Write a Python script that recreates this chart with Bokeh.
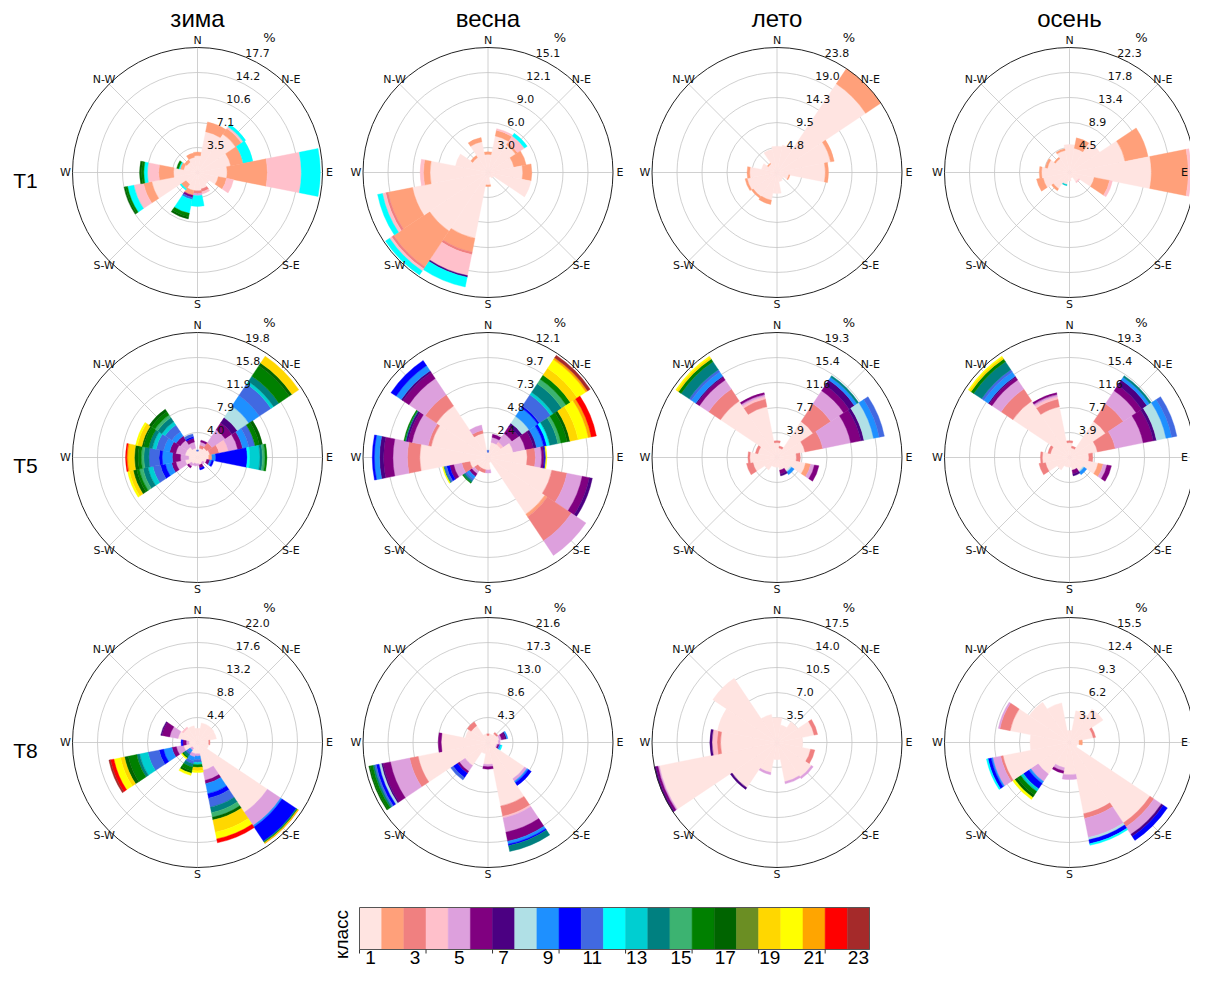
import math
from bokeh.plotting import figure
from bokeh.models import Range1d
from bokeh.embed import file_html
from bokeh.resources import INLINE
from bokeh.core.properties import value

# ---------------- data ----------------
seasons = ["зима", "весна", "лето", "осень"]
stations = ["T1", "T5", "T8"]
directions = ["N", "NNE", "NE", "ENE", "E", "ESE", "SE", "SSE",
              "S", "SSW", "SW", "WSW", "W", "WNW", "NW", "NNW"]
compass_labels = ["N", "N-E", "E", "S-E", "S", "S-W", "W", "N-W"]
class_colors = ["#FFE4E1", "#FFA07A", "#F08080", "#FFC0CB", "#DDA0DD", "#800080",
                "#4B0082", "#B0E0E6", "#1E90FF", "#0000FF", "#4169E1", "#00FFFF",
                "#00CED1", "#008080", "#3CB371", "#008000", "#006400", "#6B8E23",
                "#FFD700", "#FFFF00", "#FFA500", "#FF0000", "#A52A2A"]
class_ticks = [1, 3, 5, 7, 9, 11, 13, 15, 17, 19, 21, 23]
colorbar_title = "класс"

# per-direction stacks: [class, percent] from the centre outwards (N, NNE, ... NNW)
t1_zima = [
    [[1, 2.4], [2, 0.5]],
    [[1, 5.9], [2, 1.4]],
    [[1, 6.5], [2, 1.0], [4, 0.3], [12, 0.4]],
    [[1, 4.8], [2, 1.8], [12, 1.4]],
    [[1, 4.2], [2, 5.7], [4, 4.8], [12, 2.7]],
    [[1, 3.0], [2, 1.2], [4, 1.0]],
    [[1, 2.0]],
    [[1, 2.4], [3, 0.4], [4, 0.3]],
    [[1, 2.6], [3, 0.4], [5, 0.3], [12, 1.5]],
    [[1, 2.6], [2, 0.7], [6, 0.3], [11, 0.3], [12, 2.0], [16, 0.5], [17, 0.3]],
    [[1, 2.0], [2, 0.8], [12, 0.2]],
    [[1, 6.6], [2, 1.2], [4, 1.4], [12, 0.9], [16, 0.3], [17, 0.2]],
    [[1, 3.4], [2, 2.1], [4, 1.6], [12, 0.5], [16, 0.3], [17, 0.3]],
    [[1, 2.0], [2, 0.5], [12, 0.2], [16, 0.3]],
    [[1, 1.8], [2, 0.4]],
    [[1, 2.2], [2, 0.6]],
]
t1_vesna = [
    [[1, 2.2], [2, 0.3]],
    [[1, 4.5], [2, 0.7], [4, 0.2]],
    [[1, 4.0], [2, 0.3], [4, 1.0], [12, 0.4]],
    [[1, 3.2], [2, 1.5]],
    [[1, 4.2], [2, 1.1]],
    [[1, 5.3]],
    [[1, 0.8]],
    [[1, 0.6]],
    [[1, 1.5], [2, 0.2]],
    [[1, 8.1], [2, 1.7], [3, 0.3], [4, 2.6], [7, 0.2], [12, 1.2]],
    [[1, 8.5], [2, 5.2], [3, 0.3], [4, 0.3], [12, 0.6]],
    [[1, 9.3], [2, 3.0], [3, 0.3], [4, 0.4], [12, 0.6]],
    [[1, 7.0], [2, 0.8], [4, 0.4]],
    [[1, 4.0]],
    [[1, 2.2], [2, 0.3]],
    [[1, 3.8], [2, 0.5]],
]
t1_leto = [
    [[1, 5.0]],
    [[1, 5.3]],
    [[1, 20.3], [2, 3.5]],
    [[1, 10.4], [2, 0.7]],
    [[1, 9.2], [2, 0.6]],
    [[1, 2.3], [2, 0.2]],
    [[1, 1.5]],
    [[1, 1.8]],
    [[1, 4.0]],
    [[1, 5.4], [2, 0.8]],
    [[1, 5.5], [2, 0.4]],
    [[1, 5.8], [2, 0.4]],
    [[1, 5.2], [2, 0.5]],
    [[1, 3.0]],
    [[1, 2.0], [2, 0.2]],
    [[1, 4.5]],
]
t1_osen = [
    [[1, 5.0]],
    [[1, 4.4], [2, 1.9]],
    [[1, 6.5]],
    [[1, 10.1], [2, 4.2]],
    [[1, 14.6], [2, 6.6], [4, 0.5]],
    [[1, 4.5], [2, 2.8], [4, 0.5]],
    [[1, 2.0], [4, 0.2]],
    [[1, 1.0]],
    [[1, 1.5]],
    [[1, 2.2], [13, 0.2]],
    [[1, 3.5], [2, 0.4]],
    [[1, 4.8], [2, 1.2]],
    [[1, 5.0], [2, 0.4]],
    [[1, 4.0], [2, 0.4]],
    [[1, 3.0], [2, 0.3]],
    [[1, 4.0], [2, 0.3]],
]
t5_zima = [
    [[1, 1.0], [11, 0.2]],
    [[1, 1.5], [3, 0.5], [5, 0.5], [6, 0.3]],
    [[1, 1.8], [3, 1.0], [5, 2.5], [6, 1.3], [7, 1.0], [8, 2.2], [9, 2.0], [11, 2.2],
     [13, 0.5], [14, 1.0], [16, 2.0], [17, 0.5], [19, 1.3]],
    [[1, 2.0], [3, 1.5], [4, 1.5], [5, 1.5], [6, 0.8], [9, 1.0], [11, 1.0], [16, 0.7], [17, 0.5]],
    [[1, 1.8], [2, 0.5], [9, 0.6], [10, 5.0], [12, 0.4], [13, 1.6], [14, 0.4], [15, 0.4], [16, 0.3]],
    [[1, 1.5], [6, 0.5], [9, 0.3], [10, 0.3]],
    [[1, 1.0], [5, 0.3]],
    [[1, 1.2], [6, 0.5], [10, 0.3]],
    [[1, 1.0], [5, 0.3]],
    [[1, 1.0], [5, 0.4]],
    [[1, 1.2], [5, 0.5], [6, 0.3]],
    [[1, 2.0], [5, 1.5], [6, 0.7], [9, 1.0], [10, 0.8], [11, 1.2], [13, 0.8], [14, 0.8],
     [15, 0.6], [16, 0.4], [17, 0.6], [19, 0.6], [20, 0.3]],
    [[1, 1.4], [5, 1.3], [6, 1.3], [9, 1.6], [10, 0.5], [11, 1.6], [14, 0.8], [15, 0.4],
     [16, 0.5], [17, 0.6], [19, 1.0], [21, 0.2], [22, 0.2]],
    [[1, 2.0], [5, 1.5], [6, 1.0], [9, 1.0], [11, 1.2], [13, 0.6], [14, 0.6], [16, 0.8],
     [17, 0.3], [19, 0.7], [20, 0.3]],
    [[1, 2.0], [5, 1.3], [6, 0.8], [9, 0.8], [11, 1.3], [13, 0.6], [14, 0.8], [15, 0.5],
     [16, 0.6], [17, 0.5]],
    [[1, 1.5], [5, 1.0], [6, 0.6], [10, 0.3], [11, 0.4]],
]
t5_vesna = [
    [[1, 0.5], [11, 0.2]],
    [[1, 1.5], [5, 0.5], [6, 0.3]],
    [[1, 1.5], [4, 0.3], [5, 1.0], [6, 0.8], [7, 0.4], [8, 0.8], [9, 1.0], [10, 0.2], [11, 1.3],
     [13, 0.3], [14, 1.0], [15, 0.5], [16, 0.5], [19, 0.8], [20, 1.0], [21, 0.2], [23, 0.3]],
    [[1, 2.5], [5, 1.2], [6, 0.8], [7, 0.3], [9, 0.7], [10, 0.3], [12, 0.3], [14, 0.8],
     [15, 0.3], [16, 0.6], [17, 0.3], [19, 0.8], [20, 1.0], [21, 0.3], [22, 0.5]],
    [[1, 3.8], [3, 0.8], [5, 0.6], [6, 0.2], [7, 0.1], [10, 0.1], [20, 0.1]],
    [[1, 6.3], [3, 1.5], [5, 1.5], [6, 0.7], [7, 0.3]],
    [[1, 6.6], [2, 0.3], [3, 2.8], [5, 1.7]],
    [[1, 0.5]],
    [[1, 1.2], [5, 0.3]],
    [[1, 1.2], [3, 0.3]],
    [[1, 1.2], [3, 0.4], [5, 0.3], [6, 0.3], [9, 0.3], [11, 0.2], [14, 0.2], [16, 0.1]],
    [[1, 1.8], [3, 0.8], [5, 0.8], [6, 0.4], [10, 0.3], [11, 0.2], [14, 0.1], [20, 0.1]],
    [[1, 6.6], [3, 1.2], [5, 1.4], [6, 0.9], [7, 0.4], [9, 0.5], [10, 0.2]],
    [[1, 5.6], [3, 0.3], [5, 1.6], [6, 0.4], [7, 0.2], [14, 0.1], [16, 0.1]],
    [[1, 6.0], [3, 1.3], [5, 1.9], [6, 0.7], [7, 0.2], [9, 0.6], [10, 0.6]],
    [[1, 2.4], [3, 0.3], [5, 0.5]],
]
t5_leto = [
    [[1, 2.3], [3, 0.3]],
    [[1, 1.5], [3, 0.3]],
    [[1, 6.7], [3, 3.3], [5, 2.4], [6, 1.0], [7, 1.0], [9, 0.5], [14, 0.3]],
    [[1, 4.4], [3, 2.8], [5, 4.4], [6, 1.6], [7, 0.5], [8, 1.5], [9, 0.9], [11, 0.8]],
    [[1, 3.0], [3, 0.6]],
    [[1, 4.5], [2, 0.8], [5, 0.6], [6, 0.7]],
    [[1, 2.5], [8, 0.2], [9, 0.5]],
    [[1, 2.0], [6, 0.6], [7, 0.3]],
    [[1, 1.5]],
    [[1, 1.5]],
    [[1, 2.3]],
    [[1, 3.8], [3, 1.0]],
    [[1, 4.2], [3, 0.3]],
    [[1, 3.0], [3, 0.4]],
    [[1, 10.5], [3, 2.2], [5, 1.7], [6, 0.5], [7, 0.2], [9, 0.8], [11, 0.4], [14, 1.5],
     [16, 0.5], [19, 0.3], [20, 0.2]],
    [[1, 8.0], [3, 1.2], [4, 0.4], [5, 0.3], [6, 0.3]],
]
t5_osen = [
    [[1, 2.3], [3, 0.3]],
    [[1, 1.5], [3, 0.3]],
    [[1, 6.7], [3, 3.3], [5, 2.4], [6, 1.0], [7, 1.0], [9, 0.5], [14, 0.3]],
    [[1, 4.4], [3, 2.8], [5, 4.4], [6, 1.6], [7, 0.5], [8, 1.5], [9, 0.9], [11, 0.8]],
    [[1, 3.0], [3, 0.6]],
    [[1, 4.5], [2, 0.8], [5, 0.6], [6, 0.7]],
    [[1, 2.5], [8, 0.2], [9, 0.5]],
    [[1, 2.0], [6, 0.6], [7, 0.3]],
    [[1, 1.5]],
    [[1, 1.5]],
    [[1, 2.3]],
    [[1, 3.8], [3, 1.0]],
    [[1, 4.2], [3, 0.3]],
    [[1, 3.0], [3, 0.4]],
    [[1, 10.5], [3, 2.2], [5, 1.7], [6, 0.5], [7, 0.2], [9, 0.8], [11, 0.4], [14, 1.5],
     [16, 0.5], [19, 0.3], [20, 0.2]],
    [[1, 8.0], [3, 1.2], [4, 0.4], [5, 0.3], [6, 0.3]],
]
t8_zima = [
    [[1, 2.5]],
    [[1, 3.5]],
    [[1, 3.5]],
    [[1, 3.4]],
    [[1, 2.0], [3, 0.2]],
    [[1, 2.0]],
    [[1, 14.8], [5, 2.8], [9, 0.3], [10, 3.0], [14, 0.2], [16, 0.1], [19, 0.1], [21, 0.1]],
    [[1, 5.0], [5, 1.8], [6, 0.6], [9, 1.8], [10, 0.8], [11, 1.6], [14, 1.0], [15, 0.8],
     [17, 0.5], [19, 2.2], [20, 1.2], [22, 0.7]],
    [[1, 2.0], [5, 0.4], [9, 0.6], [11, 0.5], [13, 0.4], [16, 0.5], [19, 0.6], [20, 0.3]],
    [[1, 2.0], [5, 0.6], [9, 0.7], [11, 0.5], [14, 0.6], [16, 0.7], [17, 0.4], [20, 0.4]],
    [[1, 1.2], [5, 0.4], [9, 0.5], [11, 0.4], [14, 0.5], [16, 0.3], [20, 0.2]],
    [[1, 2.5], [5, 1.3], [6, 0.8], [9, 1.5], [10, 0.8], [11, 2.0], [13, 1.5], [14, 0.5],
     [16, 1.5], [17, 0.7], [19, 0.7], [20, 1.2], [22, 0.6], [23, 0.3]],
    [[1, 1.5], [5, 0.5], [6, 0.6], [10, 0.3]],
    [[1, 3.5], [5, 1.5], [6, 1.4], [7, 0.2]],
    [[1, 3.0], [4, 0.3]],
    [[1, 3.0]],
]
t8_vesna = [
    [[1, 1.2], [3, 0.3]],
    [[1, 1.5]],
    [[1, 1.8], [3, 0.3]],
    [[1, 2.0], [5, 0.4], [6, 0.6], [7, 0.3], [9, 0.2]],
    [[1, 1.8], [5, 0.3]],
    [[1, 1.5], [5, 0.2], [6, 0.3], [9, 0.3], [12, 0.2]],
    [[1, 7.6], [5, 0.5], [9, 0.3], [10, 0.6]],
    [[1, 11.2], [3, 1.8], [4, 0.3], [5, 2.5], [6, 1.6], [9, 0.5], [10, 0.3], [14, 1.0]],
    [[1, 3.8], [5, 0.4], [6, 0.4]],
    [[1, 2.0]],
    [[1, 4.8], [5, 1.2], [6, 0.4], [10, 0.9], [11, 0.5]],
    [[1, 12.3], [3, 1.5], [5, 3.4], [6, 1.3], [7, 0.3], [8, 0.4], [10, 0.5], [11, 0.3],
     [14, 0.3], [16, 0.5], [17, 0.2]],
    [[1, 8.1], [6, 0.5]],
    [[1, 4.0]],
    [[1, 3.5], [3, 0.8]],
    [[1, 1.5]],
]
t8_leto = [
    [[1, 3.5]],
    [[1, 2.5]],
    [[1, 3.5]],
    [[1, 5.3], [3, 0.5]],
    [[1, 3.6]],
    [[1, 4.8], [3, 0.6]],
    [[1, 5.8], [5, 0.3]],
    [[1, 5.6], [5, 0.3]],
    [[1, 2.4]],
    [[1, 4.3], [5, 0.3]],
    [[1, 7.6], [7, 0.3]],
    [[1, 16.8], [5, 0.2], [6, 0.3], [7, 0.2]],
    [[1, 7.9], [3, 0.5], [4, 0.7], [7, 0.3]],
    [[1, 8.5]],
    [[1, 10.8]],
    [[1, 4.0]],
]
t8_osen = [
    [[1, 1.5]],
    [[1, 4.0]],
    [[1, 5.0]],
    [[1, 3.0], [3, 0.3]],
    [[1, 1.2], [2, 0.4]],
    [[1, 1.0]],
    [[1, 12.0], [3, 0.6], [5, 1.1], [7, 0.3], [10, 0.6]],
    [[1, 9.0], [3, 0.6], [5, 2.4], [8, 0.3], [10, 0.5], [12, 0.2]],
    [[1, 4.0], [5, 0.6]],
    [[1, 3.2], [5, 0.4], [6, 0.3]],
    [[1, 4.7], [5, 1.1], [9, 0.3], [10, 0.8], [13, 0.4], [16, 0.5], [17, 0.4], [20, 0.3]],
    [[1, 8.4], [3, 0.3], [5, 1.0], [9, 0.2], [10, 0.4], [12, 0.2]],
    [[1, 4.9]],
    [[1, 7.5], [3, 1.3], [5, 0.2]],
    [[1, 6.0]],
    [[1, 5.0]],
]

# radial axis maxima (%) and ring labels per panel
rmax_t1 = [17.7, 15.1, 23.8, 22.3]
rmax_t5 = [19.8, 12.1, 19.3, 19.3]
rmax_t8 = [22.0, 21.6, 17.5, 15.5]
rings_t1 = [["3.5", "7.1", "10.6", "14.2", "17.7"], ["3.0", "6.0", "9.0", "12.1", "15.1"],
            ["4.8", "9.5", "14.3", "19.0", "23.8"], ["4.5", "8.9", "13.4", "17.8", "22.3"]]
rings_t5 = [["4.0", "7.9", "11.9", "15.8", "19.8"], ["2.4", "4.8", "7.3", "9.7", "12.1"],
            ["3.9", "7.7", "11.6", "15.4", "19.3"], ["3.9", "7.7", "11.6", "15.4", "19.3"]]
rings_t8 = [["4.4", "8.8", "13.2", "17.6", "22.0"], ["4.3", "8.6", "13.0", "17.3", "21.6"],
            ["3.5", "7.0", "10.5", "14.0", "17.5"], ["3.1", "6.2", "9.3", "12.4", "15.5"]]

# ---------------- layout (page pixels) ----------------
PX0, PX1, PY0, PY1 = 8, 1198, 8, 974
col_x = [205, 495.5, 784.5, 1077]
row_y = [180, 465, 750]
R = 125.0
SECTOR = 22.5

panels = [
    [(t1_zima, rmax_t1[0], rings_t1[0]), (t1_vesna, rmax_t1[1], rings_t1[1]),
     (t1_leto, rmax_t1[2], rings_t1[2]), (t1_osen, rmax_t1[3], rings_t1[3])],
    [(t5_zima, rmax_t5[0], rings_t5[0]), (t5_vesna, rmax_t5[1], rings_t5[1]),
     (t5_leto, rmax_t5[2], rings_t5[2]), (t5_osen, rmax_t5[3], rings_t5[3])],
    [(t8_zima, rmax_t8[0], rings_t8[0]), (t8_vesna, rmax_t8[1], rings_t8[1]),
     (t8_leto, rmax_t8[2], rings_t8[2]), (t8_osen, rmax_t8[3], rings_t8[3])],
]

p = figure(width=PX1 - PX0, height=PY1 - PY0, output_backend="svg", toolbar_location=None,
           x_range=Range1d(PX0, PX1), y_range=Range1d(PY1, PY0),
           x_axis_type=None, y_axis_type=None, min_border=0)
p.outline_line_color = None
p.background_fill_color = "white"

# colorbar range (class units)
cb_left, cb_right, cb_top, cb_bottom = 367, 877, 915, 957
cb_s = (cb_right - cb_left) / len(class_colors)
xr = {"cb": Range1d(0.5 - (cb_left - PX0) / cb_s, 0.5 + (PX1 - cb_left) / cb_s)}
yr = {}
for ri in range(3):
    for ci in range(4):
        rmax = panels[ri][ci][1]
        s = R / rmax
        cx, cy = col_x[ci], row_y[ri]
        xr[f"x{ri}{ci}"] = Range1d((PX0 - cx) / s, (PX1 - cx) / s)
        yr[f"y{ri}{ci}"] = Range1d((cy - PY1) / s, (cy - PY0) / s)
p.extra_x_ranges = xr
p.extra_y_ranges = yr

grid_col = "#c4c4c4"
for ri in range(3):
    for ci in range(4):
        data, rmax, rlabels = panels[ri][ci]
        kw = dict(x_range_name=f"x{ri}{ci}", y_range_name=f"y{ri}{ci}")
        s = R / rmax
        cx = col_x[ci]
        # grid
        p.circle(x=[0] * 4, y=[0] * 4, radius=[rmax * k / 5 for k in range(1, 5)],
                 fill_color=None, line_color=grid_col, line_width=0.8, **kw)
        angs = [math.radians(b) for b in range(0, 360, 45)]
        p.segment(x0=[0] * 8, y0=[0] * 8, x1=[rmax * math.sin(a) for a in angs],
                  y1=[rmax * math.cos(a) for a in angs], line_color=grid_col, line_width=0.8, **kw)
        # stacked bars
        inner, outer, st, en, col = [], [], [], [], []
        for di, segs in enumerate(data):
            b = di * SECTOR
            cum = 0.0
            for cls, v in segs:
                inner.append(cum)
                outer.append(cum + v)
                cum += v
                st.append(math.radians(90 - b - SECTOR / 2))
                en.append(math.radians(90 - b + SECTOR / 2))
                col.append(class_colors[cls - 1])
        p.annular_wedge(x=0, y=0, inner_radius=inner, outer_radius=outer,
                        start_angle=st, end_angle=en, fill_color=col, line_color=col,
                        line_width=0.4, **kw)
        # outer spine
        p.circle(x=[0], y=[0], radius=[rmax], fill_color=None, line_color="#222222",
                 line_width=1.0, **kw)
        # compass labels (kept inside the page at the right edge)
        lr = 132 / s
        cang = [math.radians(b) for b in range(0, 360, 45)]
        lx = [lr * math.sin(a) for a in cang]
        ly = [lr * math.cos(a) for a in cang]
        lx[2] = min(lx[2], (PX1 - 6 - cx) / s)
        p.text(x=lx, y=ly,
               text=compass_labels, text_font=value("DejaVu Sans"), text_font_size="11px",
               text_align="center", text_baseline="middle", text_color="#111111", **kw)
        # ring labels
        ra = math.radians(22.5)
        rr = [rmax * k / 5 for k in range(1, 6)]
        p.text(x=[r * math.sin(ra) for r in rr], y=[r * math.cos(ra) for r in rr],
               text=rlabels, text_font=value("DejaVu Sans"), text_font_size="11px",
               text_align="left", text_baseline="bottom", text_color="#111111", **kw)
        p.text(x=[72 / s], y=[135 / s], text=["%"], text_font=value("DejaVu Sans"),
               text_font_size="13px", text_align="center", text_baseline="middle",
               text_color="#111111", **kw)

# column titles and row labels
p.text(x=col_x, y=[26] * 4, text=seasons, text_font=value("Liberation Sans"),
       text_font_size="24px", text_align="center", text_baseline="alphabetic", text_color="black")
p.text(x=[33] * 3, y=[ry + 8 for ry in row_y], text=stations, text_font=value("Liberation Sans"),
       text_font_size="21px", text_align="center", text_baseline="alphabetic", text_color="black")

# colorbar
classes = list(range(1, len(class_colors) + 1))
p.quad(left=[c - 0.5 for c in classes], right=[c + 0.5 for c in classes],
       top=[cb_top] * len(classes), bottom=[cb_bottom] * len(classes),
       fill_color=class_colors, line_color=class_colors, line_width=0.5, x_range_name="cb")
p.quad(left=[0.5], right=[len(classes) + 0.5], top=[cb_top], bottom=[cb_bottom],
       fill_color=None, line_color="#555555", line_width=1, x_range_name="cb")
tick_pos = [0.5 + 3 * k for k in range(8)]
p.segment(x0=tick_pos, x1=tick_pos, y0=[cb_bottom] * 8, y1=[cb_bottom + 4] * 8,
          line_color="#333333", line_width=1, x_range_name="cb")
p.text(x=class_ticks, y=[cb_bottom + 1] * len(class_ticks), text=[str(t) for t in class_ticks],
       text_font=value("Liberation Sans"), text_font_size="19px", text_align="center",
       text_baseline="top", text_color="black", x_range_name="cb")
p.text(x=[349], y=[942], text=[colorbar_title], angle=math.pi / 2,
       text_font=value("Liberation Sans"), text_font_size="19px", text_align="center",
       text_baseline="middle", text_color="black")

open("out.html", "w").write(file_html(p, INLINE))
